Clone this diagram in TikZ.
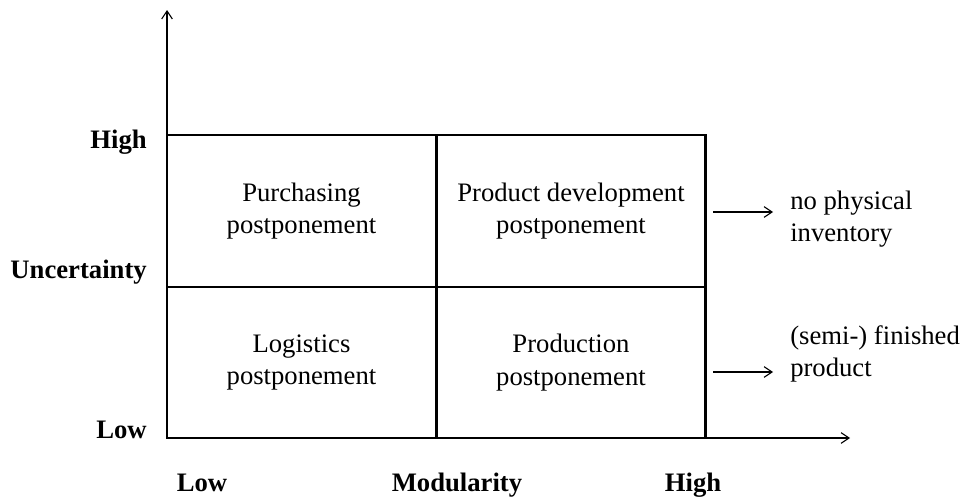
\documentclass[tikz,border=0pt]{standalone}
\usepackage{fontspec}
\setmainfont{Liberation Serif}
\usetikzlibrary{arrows.meta}

\begin{document}
\begin{tikzpicture}[x=0.75pt,y=-0.75pt,
  axisarr/.style={line width=0.8pt,-{Straight Barb[length=6pt,width=8pt]}},
  notearr/.style={line width=0.8pt,-{Straight Barb[length=6pt,width=8pt]}},
  cellbox/.style={draw,line width=1.6pt,minimum width=201.75pt,minimum height=113.5pt,
    align=center,font=\fontsize{20}{24.5}\selectfont},
  axlab/.style={font=\fontsize{20}{24}\selectfont\bfseries,inner sep=0pt},
  note/.style={align=left,font=\fontsize{20}{24.5}\selectfont,inner sep=0pt}]
\useasboundingbox (0,0) rectangle (966,496);

% axes
\coordinate (O) at (167,438);
\coordinate (ytop) at (167,10);
\coordinate (xend) at (850,438);
\draw[axisarr] (O) -- (ytop);
\draw[axisarr] (O) -- (xend);

% the four quadrants
\node[cellbox] (purch) at (301.5,211) {Purchasing\\postponement};
\node[cellbox] (prodev) at (571,211) {Product development\\postponement};
\node[cellbox] (logis) at (301.5,362.5) {Logistics\\postponement};
\node[cellbox] (prodn) at (571,362.5) {Production\\postponement};

% axis labels
\node[axlab,anchor=base east] (yhigh) at (147,148) {High};
\node[axlab,anchor=base east] (yunc) at (147,278) {Uncertainty};
\node[axlab,anchor=base east] (ylow) at (147,438) {Low};
\node[axlab,anchor=base] (xlow) at (202,491) {Low};
\node[axlab,anchor=base] (xmod) at (457,491) {Modularity};
\node[axlab,anchor=base] (xhigh) at (693,491) {High};

% notes on the right
\node[note,anchor=west] (noinv) at (790,219) {no physical\\inventory};
\node[note,anchor=west] (semi) at (790,354) {(semi-) finished\\product};
\coordinate (n1s) at (713,212);
\coordinate (n1e) at (773,212);
\coordinate (n2s) at (713,372);
\coordinate (n2e) at (773,372);
\draw[notearr] (n1s) -- (n1e);
\draw[notearr] (n2s) -- (n2e);
\end{tikzpicture}
\end{document}
